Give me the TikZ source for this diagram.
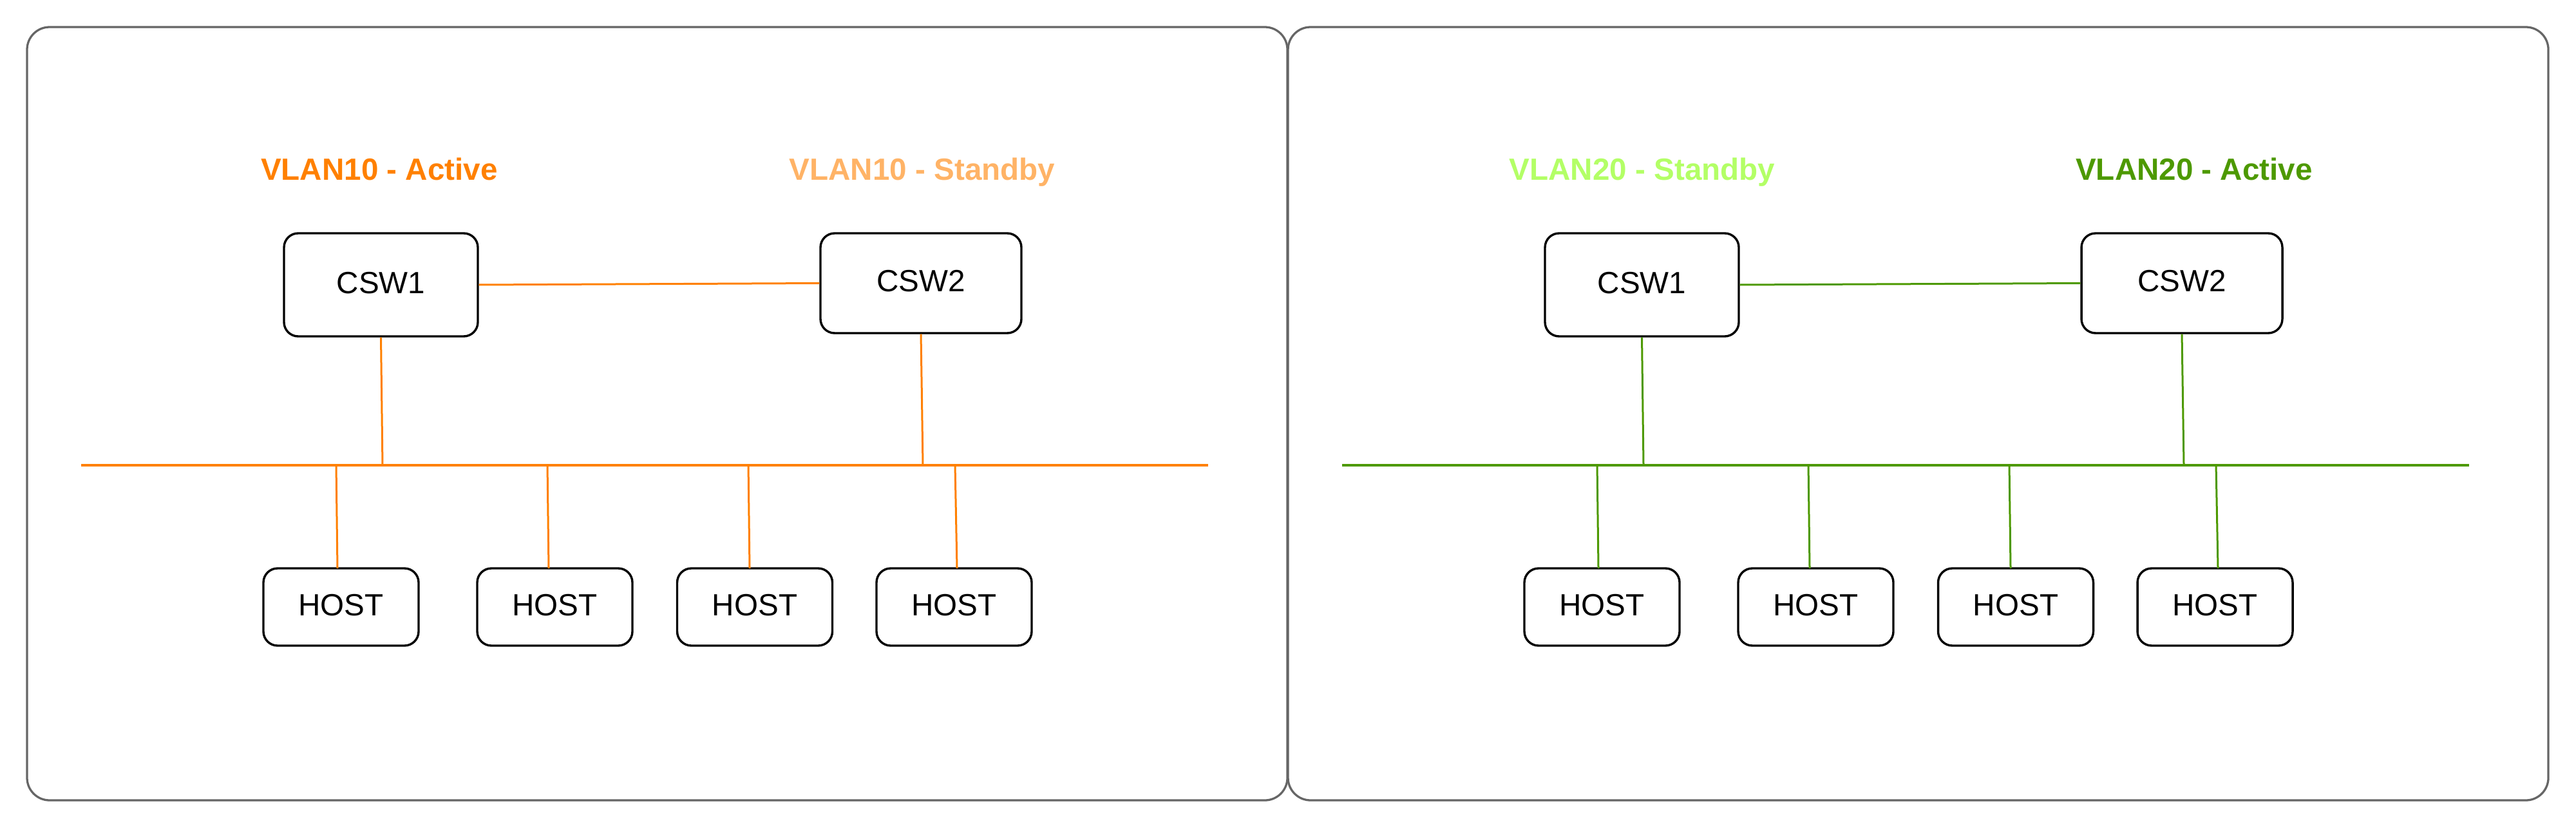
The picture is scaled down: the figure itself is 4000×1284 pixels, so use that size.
\documentclass[tikz,border=0pt]{standalone}
\usepackage{fontspec}
\setmainfont{Liberation Sans}
\definecolor{vorange}{HTML}{FF8000}
\definecolor{vlorange}{HTML}{FFB366}
\definecolor{vgreen}{HTML}{4D9900}
\definecolor{vlgreen}{HTML}{B3FF66}
\definecolor{panelgray}{HTML}{666666}
\begin{document}
\begin{tikzpicture}[x=0.25pt,y=-0.25pt,
  panel/.style={draw=panelgray, line width=0.82pt, rounded corners=8.75pt},
  box/.style={draw=black, line width=0.85pt, rounded corners=5.5pt, fill=white,
    inner sep=0pt, font=\fontsize{11.9}{14}\selectfont, text depth=1.75pt},
  cswa/.style={box, minimum width=75.25pt, minimum height=40pt},
  cswb/.style={box, minimum width=78pt, minimum height=38.75pt},
  hostbox/.style={box, minimum width=60.25pt, minimum height=30pt},
  vlabel/.style={anchor=base, inner sep=0pt, font=\fontsize{11.9}{14}\selectfont\bfseries},
  wire/.style={line width=0.75pt},
  bus/.style={line width=0.82pt}]
\useasboundingbox (0,0) rectangle (4000,1284);

% panels
\draw[panel] (42,42) rectangle (1999,1242);
\draw[panel] (2000,42) rectangle (3957,1242);

% ---------------- left panel (VLAN10) ----------------
\node[vlabel, text=vorange] (la1) at (589,280) {VLAN10 - Active};
\node[vlabel, text=vlorange] (la2) at (1432,280) {VLAN10 - Standby};

\node[cswa] (a1) at (591.5,442) {CSW1};
\node[cswb] (a2) at (1430,439.5) {CSW2};
\node[hostbox] (ah1) at (529.5,942) {HOST};
\node[hostbox] (ah2) at (861.5,942) {HOST};
\node[hostbox] (ah3) at (1172,942) {HOST};
\node[hostbox] (ah4) at (1481.5,942) {HOST};

\coordinate (abL) at (126,722);
\coordinate (abR) at (1876,722);
\coordinate (aj1) at (594,722);
\coordinate (aj2) at (1433,722);
\coordinate (ak1) at (522,722);
\coordinate (ak2) at (850,722);
\coordinate (ak3) at (1162,722);
\coordinate (ak4) at (1483,722);
\coordinate (at1) at (524,882);
\coordinate (at2) at (852,882);
\coordinate (at3) at (1164,882);
\coordinate (at4) at (1486,882);

\draw[bus, vorange] (abL) -- (abR);
\draw[wire, vorange] (a1.east) -- (a2.west);
\draw[wire, vorange] (a1.south) -- (aj1);
\draw[wire, vorange] (a2.south) -- (aj2);
\draw[wire, vorange] (ak1) -- (at1);
\draw[wire, vorange] (ak2) -- (at2);
\draw[wire, vorange] (ak3) -- (at3);
\draw[wire, vorange] (ak4) -- (at4);

% ---------------- right panel (VLAN20) ----------------
\node[vlabel, text=vlgreen] (lb1) at (2550,280) {VLAN20 - Standby};
\node[vlabel, text=vgreen] (lb2) at (3407,280) {VLAN20 - Active};

\node[cswa] (b1) at (2549.5,442) {CSW1};
\node[cswb] (b2) at (3388,439.5) {CSW2};
\node[hostbox] (bh1) at (2487.5,942) {HOST};
\node[hostbox] (bh2) at (2819.5,942) {HOST};
\node[hostbox] (bh3) at (3130,942) {HOST};
\node[hostbox] (bh4) at (3439.5,942) {HOST};

\coordinate (bbL) at (2084,722);
\coordinate (bbR) at (3834,722);
\coordinate (bj1) at (2552,722);
\coordinate (bj2) at (3391,722);
\coordinate (bk1) at (2480,722);
\coordinate (bk2) at (2808,722);
\coordinate (bk3) at (3120,722);
\coordinate (bk4) at (3441,722);
\coordinate (bt1) at (2482,882);
\coordinate (bt2) at (2810,882);
\coordinate (bt3) at (3122,882);
\coordinate (bt4) at (3444,882);

\draw[bus, vgreen] (bbL) -- (bbR);
\draw[wire, vgreen] (b1.east) -- (b2.west);
\draw[wire, vgreen] (b1.south) -- (bj1);
\draw[wire, vgreen] (b2.south) -- (bj2);
\draw[wire, vgreen] (bk1) -- (bt1);
\draw[wire, vgreen] (bk2) -- (bt2);
\draw[wire, vgreen] (bk3) -- (bt3);
\draw[wire, vgreen] (bk4) -- (bt4);
\end{tikzpicture}
\end{document}
